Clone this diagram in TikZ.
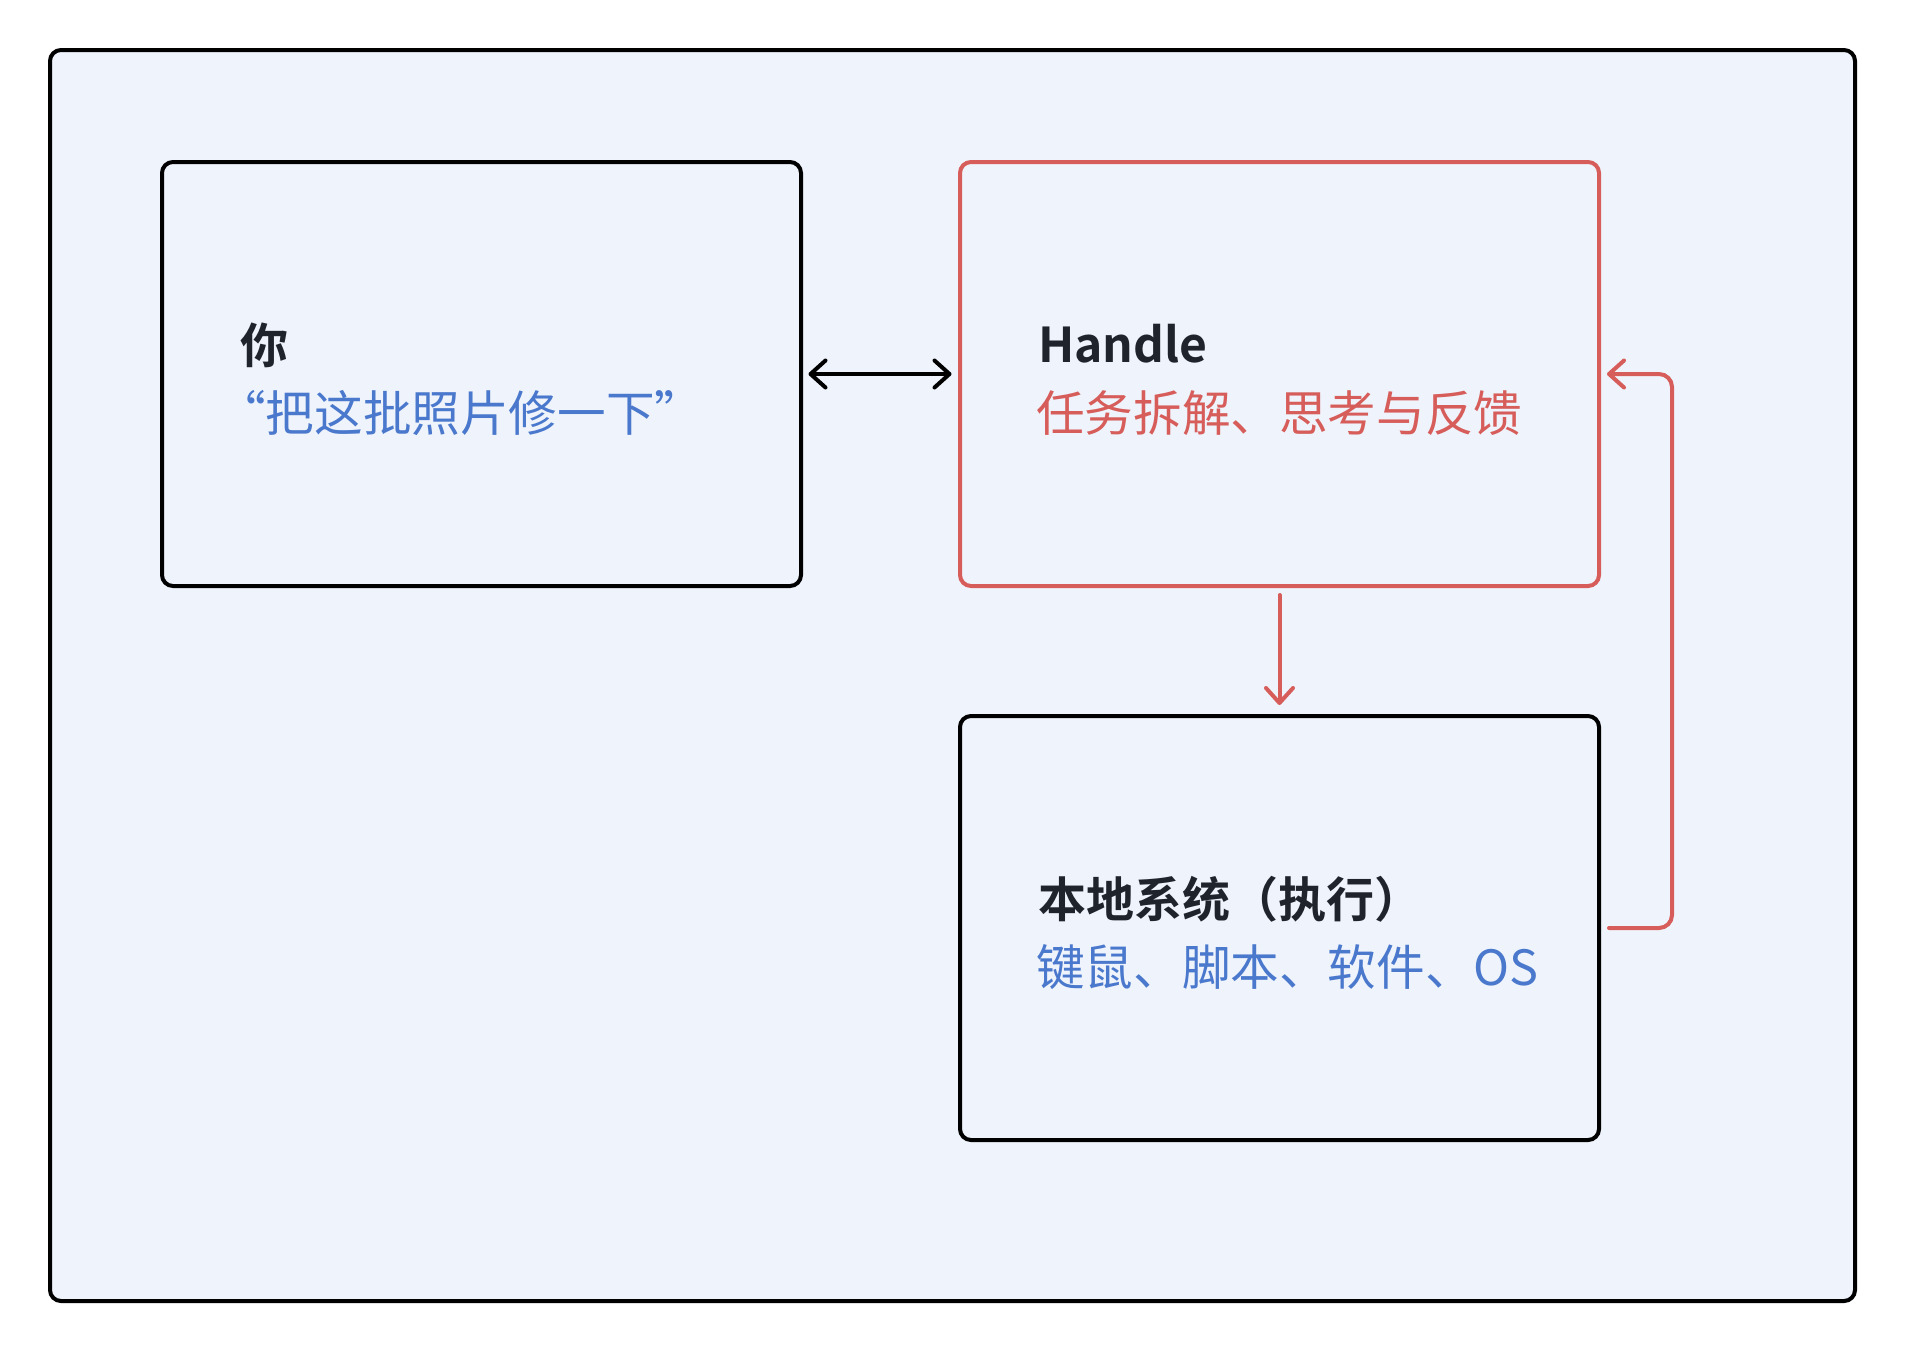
\documentclass[tikz,border=0pt]{standalone}
\usepackage{fontspec}
\setmainfont{Noto Sans CJK SC}[BoldFont={Noto Sans CJK SC Bold}]
\usetikzlibrary{positioning,arrows.meta}
\definecolor{panel}{HTML}{EFF4FC}
\definecolor{ink}{HTML}{1F232B}
\definecolor{softblue}{HTML}{4A78CC}
\definecolor{softred}{HTML}{D65D5A}
\tikzset{
  box/.style={draw=black, line width=4pt, rounded corners=11pt, fill=panel,
    minimum width=639pt, minimum height=424pt, inner sep=0pt, outer sep=0pt},
  title/.style={anchor=base west, inner sep=0pt, text=ink,
    font=\fontsize{48}{58}\selectfont\bfseries},
  subtitle/.style={anchor=base west, inner sep=0pt,
    font=\fontsize{48.6}{58}\selectfont},
  barb/.tip={Straight Barb[length=15pt,width=27pt,line cap=round,line join=round]},
  link/.style={line width=4pt, line cap=round}
}
\begin{document}
\begin{tikzpicture}[x=1pt,y=-1pt]
  \useasboundingbox (0,0) rectangle (1905,1352);
  \draw[line width=4pt, rounded corners=11pt, fill=panel] (50,50) rectangle (1855,1301);
  % the three boxes
  \node[box] (you) at (481.5,374) {};
  \node[box, draw=softred, right=159pt of you] (handle) {};
  \node[box, below=130pt of handle] (local) {};
  % texts in the boxes
  \node[title] (you title) at ([shift={(78,201)}]you.north west) {你};
  \node[subtitle, text=softblue] (you sub) at ([shift={(55,269)}]you.north west) {“把这批照片修一下”};
  \node[title] (handle title) at ([shift={(78,200)}]handle.north west) {Handle};
  \node[subtitle, text=softred] (handle sub) at ([shift={(76,269)}]handle.north west) {任务拆解、思考与反馈};
  \node[title] (local title) at ([shift={(78,201)}]local.north west) {本地系统（执行）};
  \node[subtitle, text=softblue] (local sub) at ([shift={(76,269)}]local.north west) {键鼠、脚本、软件、OS};
  % connectors
  \draw[link, barb-barb, shorten <=7.5pt, shorten >=8.5pt] (you.east) -- (handle.west);
  \draw[link, softred, -barb, shorten <=9pt, shorten >=11pt] (handle.south) -- (local.north);
  \coordinate (turn) at ([xshift=73pt]local.east);
  \draw[link, softred, -barb, rounded corners=13pt, shorten >=8pt]
    ([xshift=10pt]local.east) -- (turn) |- (handle.east);
\end{tikzpicture}
\end{document}
